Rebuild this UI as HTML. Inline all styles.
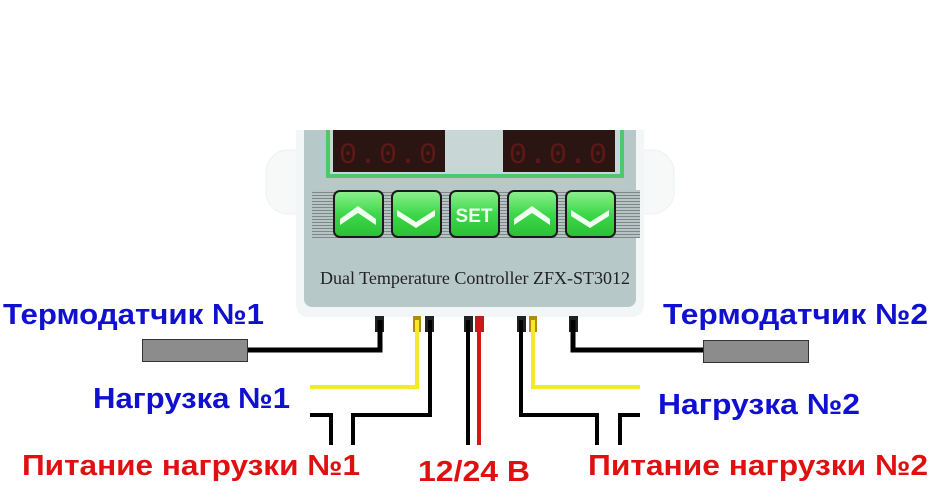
<!DOCTYPE html>
<html><head><meta charset="utf-8"><style>
html,body{margin:0;padding:0;background:#fff;width:938px;height:500px;overflow:hidden}
</style></head><body>
<svg width="938" height="500" xmlns="http://www.w3.org/2000/svg">
<defs>
<linearGradient id="btn" x1="0" y1="0" x2="0" y2="1">
<stop offset="0" stop-color="#8ef08e"/><stop offset="0.5" stop-color="#3dd84a"/><stop offset="1" stop-color="#2bbf35"/>
</linearGradient>
<pattern id="stripe" width="4" height="3" patternUnits="userSpaceOnUse">
<rect width="4" height="3" fill="#b8c4c4"/><rect width="4" height="1" fill="#7d8888"/>
</pattern>
</defs>
<!-- ears -->
<rect x="266" y="150" width="50" height="64" rx="22" fill="#f7f9f9" stroke="#eef1f1"/>
<rect x="624" y="150" width="50" height="64" rx="22" fill="#f7f9f9" stroke="#eef1f1"/>
<!-- body -->
<rect x="296" y="110" width="348" height="207" rx="12" fill="#f3f6f6"/>
<rect x="304" y="110" width="332" height="197" rx="8" fill="#b7c8c8"/>
<!-- display frame -->
<rect x="326" y="110" width="298" height="68" fill="#4dc86a"/>
<rect x="330" y="110" width="290" height="64" fill="#c9d6d6"/>
<rect x="333" y="110" width="112" height="62" fill="#2a1512"/>
<rect x="503" y="110" width="112" height="62" fill="#2a1512"/>
<rect x="296" y="100" width="348" height="30" fill="#fff"/>
<text x="389" y="163" font-family="Liberation Mono,monospace" font-size="30" fill="#5e1816" text-anchor="middle" letter-spacing="2">0.0.0</text>
<text x="559" y="163" font-family="Liberation Mono,monospace" font-size="30" fill="#5e1816" text-anchor="middle" letter-spacing="2">0.0.0</text>
<!-- button strip -->
<rect x="312" y="190" width="328" height="48" fill="url(#stripe)"/>
<g stroke="#1a1a1a" stroke-width="2" fill="url(#btn)">
<rect x="334" y="191" width="49" height="46" rx="6"/>
<rect x="392" y="191" width="49" height="46" rx="6"/>
<rect x="450" y="191" width="49" height="46" rx="6"/>
<rect x="508" y="191" width="49" height="46" rx="6"/>
<rect x="566" y="191" width="49" height="46" rx="6"/>
</g>
<g fill="#f0fff0">
<polygon points="340,219 358,206 376,219 376,225 358,213 340,225"/>
<polygon points="397,210 416,222 435,210 435,216 416,228 397,216"/>
<polygon points="514,219 532,206 550,219 550,225 532,213 514,225"/>
<polygon points="571,210 590,222 609,210 609,216 590,228 571,216"/>
</g>
<text x="474" y="222" font-family="Liberation Sans,sans-serif" font-weight="bold" font-size="19" fill="#f0fff0" text-anchor="middle">SET</text>
<text x="475" y="284" font-family="Liberation Serif,serif" font-size="17.5" fill="#222" text-anchor="middle" textLength="310" lengthAdjust="spacingAndGlyphs">Dual Temperature Controller ZFX-ST3012</text>
<!-- wire stubs -->
<g>
<rect x="375" y="316" width="9" height="16" fill="#222"/>
<rect x="413" y="316" width="8" height="16" fill="#b38a10"/>
<rect x="425" y="316" width="9" height="16" fill="#222"/>
<rect x="464" y="316" width="9" height="16" fill="#222"/>
<rect x="475" y="316" width="9" height="16" fill="#b82020"/>
<rect x="517" y="316" width="9" height="16" fill="#222"/>
<rect x="529" y="316" width="8" height="16" fill="#b38a10"/>
<rect x="569" y="316" width="9" height="16" fill="#222"/>
</g>
<!-- wires -->
<g fill="none" stroke-linejoin="miter">
<polyline points="248,350 380,350 380,320" stroke="#000" stroke-width="5"/>
<polyline points="310,387 417,387 417,320" stroke="#f5ea2a" stroke-width="4"/>
<polyline points="353,445 353,415 430,415 430,320" stroke="#000" stroke-width="4"/>
<polyline points="310,415 331,415 331,445" stroke="#000" stroke-width="4"/>
<line x1="468" y1="320" x2="468" y2="445" stroke="#000" stroke-width="4"/>
<line x1="479" y1="320" x2="479" y2="445" stroke="#d01818" stroke-width="4"/>
<polyline points="521,320 521,415 597,415 597,445" stroke="#000" stroke-width="4"/>
<polyline points="533,320 533,387 640,387" stroke="#f5ea2a" stroke-width="4"/>
<polyline points="640,415 620,415 620,445" stroke="#000" stroke-width="4"/>
<polyline points="573,320 573,350 705,350" stroke="#000" stroke-width="5"/>
</g>
<rect x="142.5" y="339.5" width="105" height="22" fill="#8c8c8c" stroke="#333"/>
<rect x="703.5" y="340.5" width="105" height="22" fill="#8c8c8c" stroke="#333"/>
<!-- labels -->
<g font-family="Liberation Sans,sans-serif" font-weight="bold" font-size="29">
<text x="3" y="324" fill="#1010d0" textLength="261" lengthAdjust="spacingAndGlyphs">Термодатчик №1</text>
<text x="93" y="408" fill="#1010d0" textLength="197" lengthAdjust="spacingAndGlyphs">Нагрузка №1</text>
<text x="22" y="475" fill="#e01010" textLength="338" lengthAdjust="spacingAndGlyphs">Питание нагрузки №1</text>
<text x="418" y="481" fill="#e01010" textLength="112" lengthAdjust="spacingAndGlyphs">12/24 В</text>
<text x="663" y="324" fill="#1010d0" textLength="265" lengthAdjust="spacingAndGlyphs">Термодатчик №2</text>
<text x="658" y="414" fill="#1010d0" textLength="202" lengthAdjust="spacingAndGlyphs">Нагрузка №2</text>
<text x="588" y="475" fill="#e01010" textLength="340" lengthAdjust="spacingAndGlyphs">Питание нагрузки №2</text>
</g>
</svg>
</body></html>
